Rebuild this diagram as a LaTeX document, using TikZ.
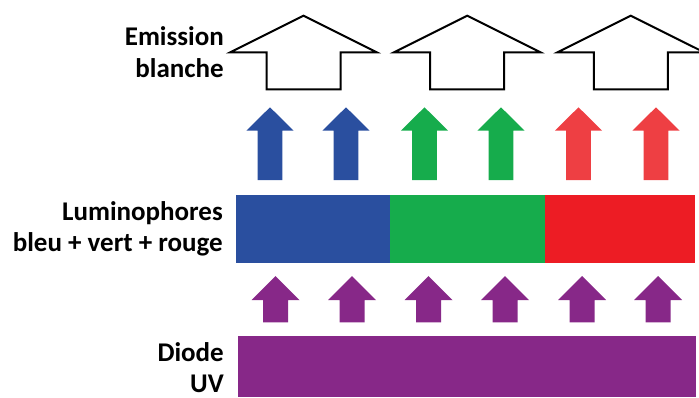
\documentclass[tikz,border=0pt]{standalone}
\usepackage{fontspec}
\setmainfont{Carlito}
\definecolor{cblue}{HTML}{2A4F9F}
\definecolor{cgreen}{HTML}{16AC4C}
\definecolor{cred}{HTML}{ED1C24}
\definecolor{credarrow}{HTML}{EE3F43}
\definecolor{cpurple}{HTML}{872888}
\begin{document}
\begin{tikzpicture}[x=1pt,y=-1pt,
  lbl/.style={anchor=base east,inner sep=0pt,text depth=0pt,font=\fontsize{27}{32}\selectfont\bfseries},
  hollow/.style={draw=black,line width=2pt,fill=white,line join=miter}]
\useasboundingbox (0,0) rectangle (699,397);
\clip (0,0) rectangle (699,397);
% white emission arrows
\foreach \c in {303.5,467.2,630.8}{
  \draw[hollow] (\c-37,89.3) -- (\c-37,52.3) -- (\c-73.3,52.3) -- (\c,15.7)
    -- (\c+73.3,52.3) -- (\c+37,52.3) -- (\c+37,89.3) -- cycle;
}
% coloured arrows
\foreach \c/\col in {270/cblue,346/cblue,424.5/cgreen,501/cgreen,578.5/credarrow,656/credarrow}{
  \fill[\col] (\c-12.3,180) -- (\c-12.3,130.7) -- (\c-23.7,130.7) -- (\c,107.3)
    -- (\c+23.7,130.7) -- (\c+12.3,130.7) -- (\c+12.3,180) -- cycle;
}
% luminophores bar
\fill[cblue] (236,195) rectangle (390,262.7);
\fill[cgreen] (390,195) rectangle (545,262.7);
\fill[cred] (545,195) rectangle (695,262.7);
% purple arrows
\foreach \c in {275.5,352,428.5,505,582,658}{
  \fill[cpurple] (\c-12.5,322.3) -- (\c-12.5,300) -- (\c-24,300) -- (\c,276)
    -- (\c+24,300) -- (\c+12.5,300) -- (\c+12.5,322.3) -- cycle;
}
% diode bar
\fill[cpurple] (238.3,336) rectangle (696,397);
% labels
\node[lbl] (em1) at (224,45) {Emission};
\node[lbl] (em2) at (224,77.3) {blanche};
\node[lbl] (lu1) at (223,220) {Luminophores};
\node[lbl] (lu2) at (223,251.7) {bleu + vert + rouge};
\node[lbl] (di1) at (224,361) {Diode};
\node[lbl] (di2) at (224,392) {UV};
\end{tikzpicture}
\end{document}
